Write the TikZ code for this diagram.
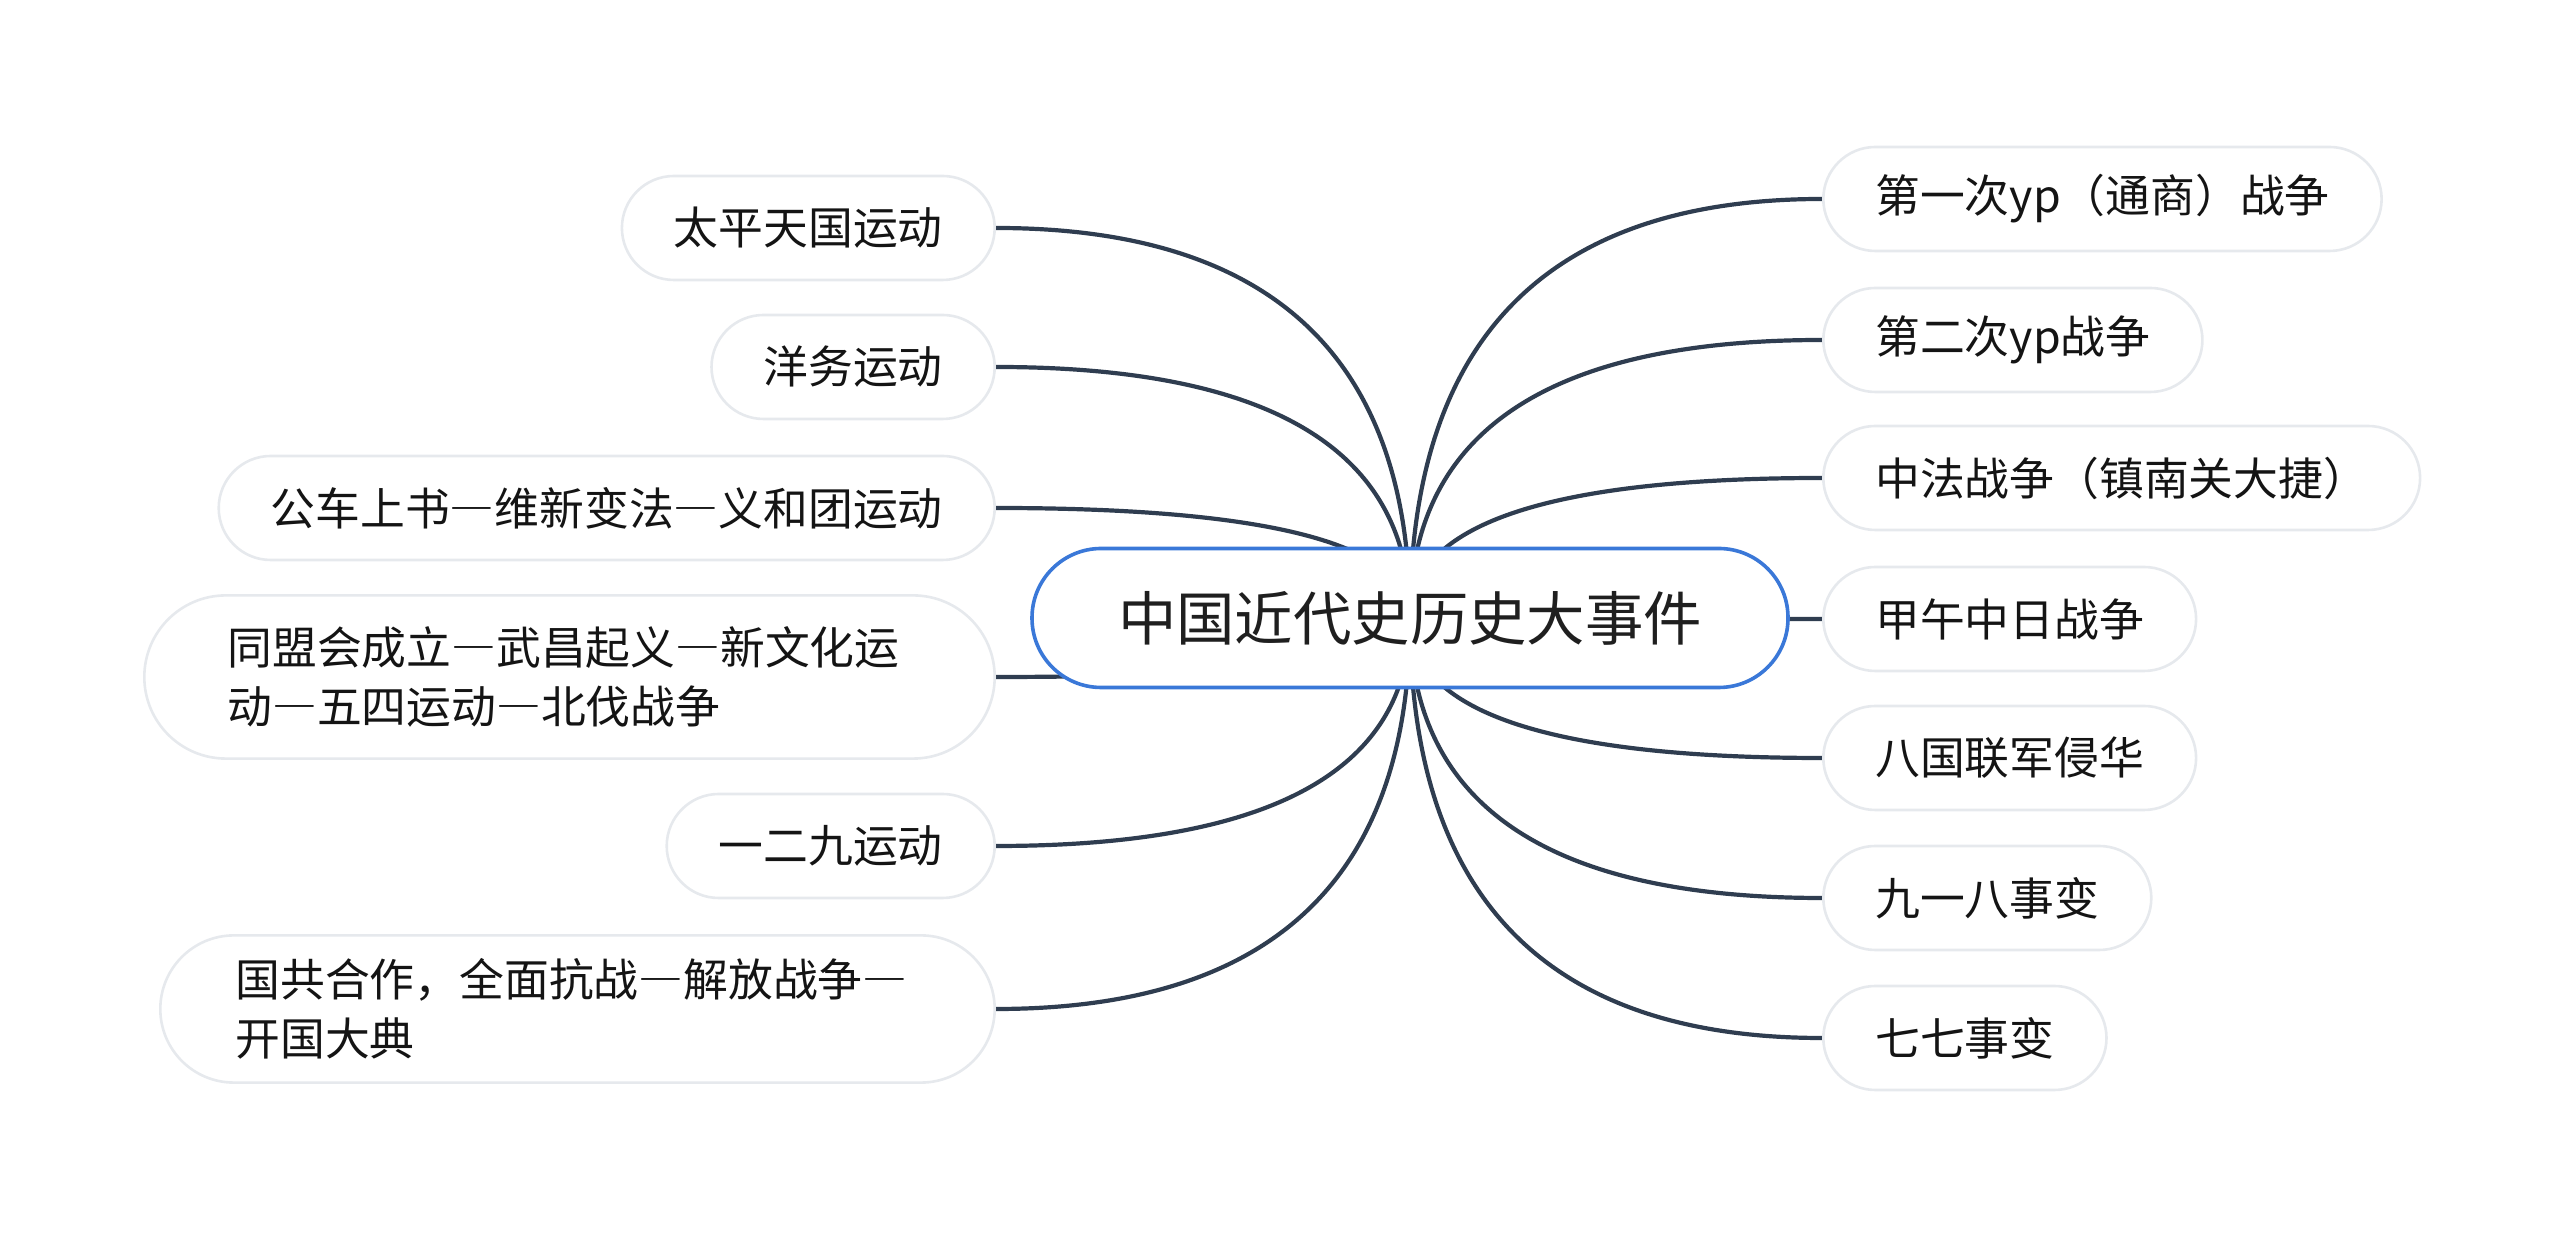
\documentclass[tikz,border=0pt]{standalone}
\usepackage{fontspec}
\setmainfont{Noto Sans CJK SC}
\newfontfamily\anchocjk[RawFeature=+fwid]{Noto Sans CJK SC}
\newcommand{\raya}{{\anchocjk —}}
\usetikzlibrary{calc,backgrounds}
\definecolor{azulRaiz}{HTML}{3A78D8}
\definecolor{grisHoja}{HTML}{E6E9ED}
\definecolor{tintaRama}{HTML}{2F3D50}

\begin{document}
\begin{tikzpicture}[x=0.25pt,y=-0.25pt,
  hoja/.style={draw=grisHoja,line width=0.65pt,fill=white,rounded corners=13pt,
    minimum height=26pt,inner xsep=13pt,inner ysep=0pt,
    font=\fontsize{11.2}{14.7}\selectfont,text=black!92},
  hojados/.style={hoja,align=left,text width=171pt},
  rama/.style={draw=tintaRama,line width=1.05pt}]
  \useasboundingbox (0,0) rectangle (2560,1237);
  \node[draw=azulRaiz,line width=0.9pt,fill=white,rounded corners=17.3pt,
    minimum width=189pt,minimum height=34.75pt,
    font=\fontsize{14.6}{17}\selectfont,text=black!88] (raiz) at (1410,618)
    {中国近代史历史大事件};
  \node[hoja,anchor=west] (d1) at (1822,199) {第一次yp（通商）战争};
  \node[hoja,anchor=west] (d2) at (1822,340) {第二次yp战争};
  \node[hoja,anchor=west] (d3) at (1822,478) {中法战争（镇南关大捷）};
  \node[hoja,anchor=west] (d4) at (1822,619) {甲午中日战争};
  \node[hoja,anchor=west] (d5) at (1822,758) {八国联军侵华};
  \node[hoja,anchor=west] (d6) at (1822,898) {九一八事变};
  \node[hoja,anchor=west] (d7) at (1822,1038) {七七事变};
  \node[hoja,anchor=east] (i1) at (996,228) {太平天国运动};
  \node[hoja,anchor=east] (i2) at (996,367) {洋务运动};
  \node[hoja,anchor=east] (i3) at (996,508) {公车上书\raya 维新变法\raya 义和团运动};
  \node[hojados,anchor=east,inner xsep=20.8pt,minimum height=40.8pt,
    rounded corners=20.4pt] (i4) at (996,677)
    {同盟会成立\raya 武昌起义\raya 新文化运\\动\raya 五四运动\raya 北伐战争};
  \node[hoja,anchor=east] (i5) at (996,846) {一二九运动};
  \node[hojados,anchor=east,inner xsep=18.8pt,minimum height=36.8pt,
    rounded corners=18.4pt] (i6) at (996,1009)
    {国共合作，全面抗战\raya 解放战争\raya\\开国大典};
  \begin{scope}[on background layer]
    \foreach \h/\a in {i1/east,i2/east,i3/east,i4/east,i5/east,i6/east,
      d1/west,d2/west,d3/west,d4/west,d5/west,d6/west,d7/west}{
      \coordinate (k) at (raiz.center |- \h.\a);
      \draw[rama] (raiz.center) .. controls ($(raiz.center)!.6667!(k)$)
        and ($(\h.\a)!.6667!(k)$) .. (\h.\a);
    }
  \end{scope}
\end{tikzpicture}
\end{document}
